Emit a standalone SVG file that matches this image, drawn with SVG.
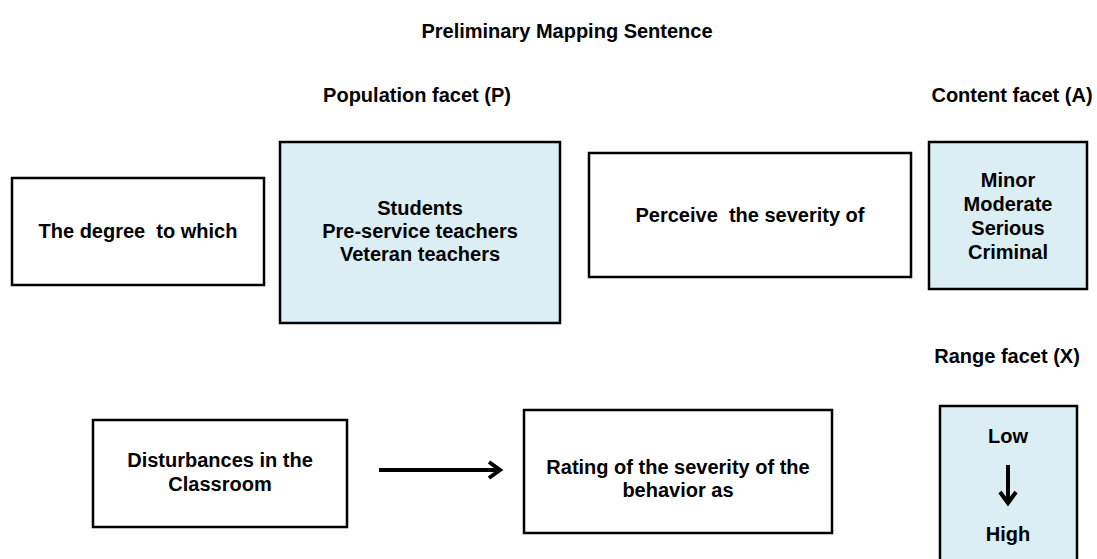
<svg xmlns="http://www.w3.org/2000/svg" width="1097" height="559" viewBox="0 0 1097 559">
  <style>
    .box { fill: #ffffff; stroke: #000000; stroke-width: 2.5; }
    .facet { fill: #DAEEF3; stroke: #000000; stroke-width: 2.5; }
    .t { font-family: "Liberation Sans", Arial, sans-serif; font-weight: bold; font-size: 20px; fill: #000000; text-anchor: middle; }
    .conn { stroke: #000000; stroke-width: 4; fill: none; }
  </style>
  <defs>
    <marker id="head" markerUnits="userSpaceOnUse" viewBox="0 0 20 20" markerWidth="20" markerHeight="20" refX="16" refY="10" orient="auto">
      <path d="M5,2 L16,10 L5,18" fill="none" stroke="#000000" stroke-width="4" stroke-linejoin="miter"/>
    </marker>
  </defs>
  <rect width="1097" height="559" fill="#ffffff"/>

  <g id="labels">
    <text class="t" x="567" y="38">Preliminary Mapping Sentence</text>
    <text class="t" x="417" y="102">Population facet (P)</text>
    <text class="t" x="1012" y="102">Content facet (A)</text>
    <text class="t" x="1007" y="363">Range facet (X)</text>
  </g>

  <g id="node-degree">
    <rect class="box" x="12" y="178" width="252" height="107"/>
    <text class="t" x="138" y="238" xml:space="preserve">The degree  to which</text>
  </g>

  <g id="node-population">
    <rect class="facet" x="280" y="142" width="280" height="181"/>
    <text class="t" x="420" y="215">Students</text>
    <text class="t" x="420" y="238">Pre-service teachers</text>
    <text class="t" x="420" y="261">Veteran teachers</text>
  </g>

  <g id="node-perceive">
    <rect class="box" x="589" y="153" width="322" height="124"/>
    <text class="t" x="750" y="222" xml:space="preserve">Perceive  the severity of</text>
  </g>

  <g id="node-content">
    <rect class="facet" x="929" y="142" width="158" height="147"/>
    <text class="t" x="1008" y="187">Minor</text>
    <text class="t" x="1008" y="211">Moderate</text>
    <text class="t" x="1008" y="235">Serious</text>
    <text class="t" x="1008" y="259">Criminal</text>
  </g>

  <g id="node-disturbances">
    <rect class="box" x="93" y="420" width="254" height="107"/>
    <text class="t" x="220" y="467">Disturbances in the</text>
    <text class="t" x="220" y="491">Classroom</text>
  </g>

  <g id="node-rating">
    <rect class="box" x="524" y="410" width="308" height="123"/>
    <text class="t" x="678" y="474">Rating of the severity of the</text>
    <text class="t" x="678" y="497">behavior as</text>
  </g>

  <g id="node-range">
    <rect class="facet" x="940" y="406" width="137" height="170"/>
    <text class="t" x="1008" y="443">Low</text>
    <line class="conn" x1="1008" y1="465" x2="1008" y2="503" marker-end="url(#head)"/>
    <text class="t" x="1008" y="541">High</text>
  </g>

  <g id="connectors">
    <line class="conn" x1="379" y1="470" x2="500" y2="470" marker-end="url(#head)"/>
  </g>
</svg>
